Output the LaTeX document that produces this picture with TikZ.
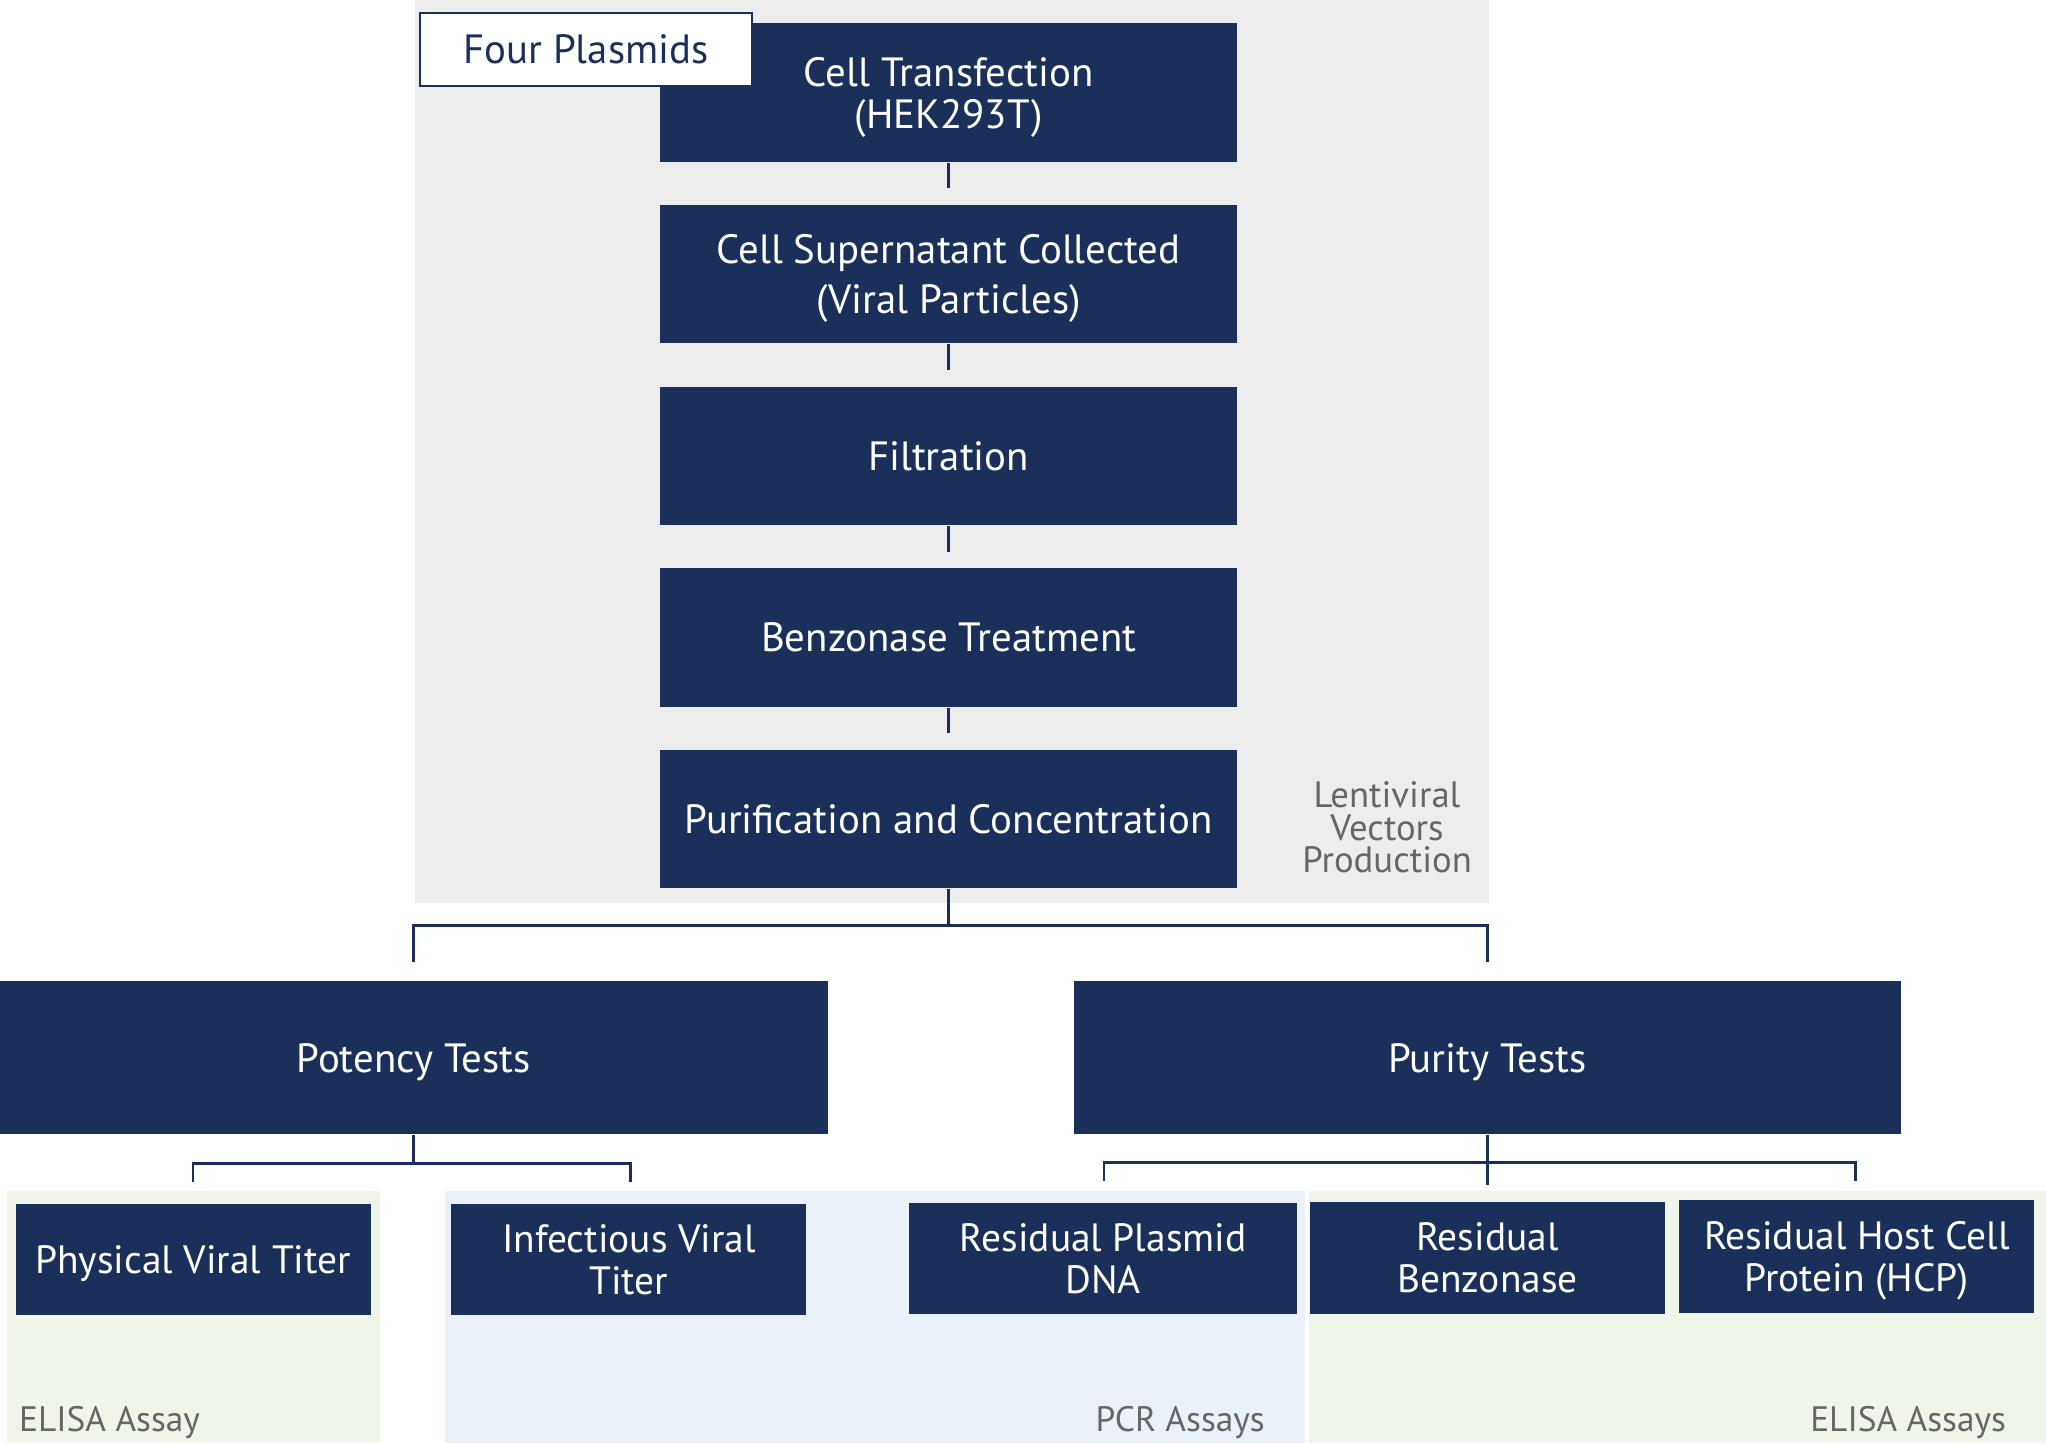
\documentclass[tikz,border=0pt]{standalone}
\usepackage{fontspec}
\setmainfont{PT Sans}
\usepackage{tikz}
\usetikzlibrary{arrows.meta}
\definecolor{navy}{HTML}{1B2F5B}
\definecolor{bggray}{HTML}{EDEDED}
\definecolor{bggreen}{HTML}{EFF5E9}
\definecolor{bgblue}{HTML}{EAF1F9}
\definecolor{labgray}{HTML}{666666}
\tikzset{
  stepbox/.style={rectangle, fill=navy, text=white, align=center, inner sep=0pt, text depth=0pt,
    font=\fontsize{8.9}{9.2}\selectfont},
  testbox/.style={stepbox, font=\fontsize{8.6}{9.2}\selectfont},
  conn/.style={draw=navy, line width=0.6pt},
  assaylabel/.style={text=labgray, inner sep=0pt, font=\fontsize{7.7}{8}\selectfont}
}
\begin{document}
\begin{tikzpicture}[x=0.01cm, y=-0.01cm]
        	\useasboundingbox (0,0) rectangle (1568,1106);
        	\fill [bggray] (318,0) rectangle (1141,692);
        	\fill [bggreen] (5,913) rectangle (291,1106);
        	\fill [bgblue] (341,913) rectangle (1000,1106);
        	\fill [bggreen] (1003,913) rectangle (1568,1106);
        	\node [stepbox, minimum width=4.42cm, minimum height=1.06cm] (transfect) at (727,71) {Cell Transfection\\(HEK293T)};
        	\node [stepbox, minimum width=4.42cm, minimum height=1.06cm, font=\fontsize{8.9}{10.8}\selectfont] (supernat) at (727,210) {Cell Supernatant Collected\\(Viral Particles)};
        	\node [stepbox, minimum width=4.42cm, minimum height=1.06cm] (filtr) at (727,349.5) {Filtration};
        	\node [stepbox, minimum width=4.42cm, minimum height=1.06cm] (benzotreat) at (727,488.5) {Benzonase Treatment};
        	\node [stepbox, minimum width=4.42cm, minimum height=1.06cm] (purif) at (727,627.5) {Purification and Concentration};
        	\node [rectangle, draw=navy, fill=white, text=navy, line width=0.5pt, minimum width=2.54cm, minimum height=0.56cm, inner sep=0pt, font=\fontsize{8.9}{9.2}\selectfont] (plasmids) at (449,38) {Four Plasmids};
        	\node [assaylabel, align=center, font=\fontsize{8}{7.1}\selectfont] (lenti) at (1063,634) {Lentiviral\\Vectors\\Production};
        	\node [stepbox, minimum width=6.34cm, minimum height=1.17cm] (potency) at (317,810.5) {Potency Tests};
        	\node [stepbox, minimum width=6.34cm, minimum height=1.17cm] (purity) at (1140,810.5) {Purity Tests};
        	\node [testbox, minimum width=2.72cm, minimum height=0.85cm] (physical) at (148,965.5) {Physical Viral Titer};
        	\node [testbox, minimum width=2.72cm, minimum height=0.85cm] (infect) at (482,965.5) {Infectious Viral\\Titer};
        	\node [testbox, minimum width=2.97cm, minimum height=0.85cm] (plasdna) at (845.5,964.5) {Residual Plasmid\\DNA};
        	\node [testbox, minimum width=2.72cm, minimum height=0.86cm] (resbenzo) at (1140,964) {Residual\\Benzonase};
        	\node [testbox, minimum width=2.72cm, minimum height=0.86cm] (hcp) at (1423,963) {Residual Host Cell\\Protein (HCP)};
        	\node [assaylabel, anchor=base west] (elisaone) at (14,1097) {ELISA Assay};
        	\node [assaylabel, anchor=base east] (pcr) at (970,1097) {PCR Assays};
        	\node [assaylabel, anchor=base east] (elisatwo) at (1538,1097) {ELISA Assays};
        	\draw [conn, shorten >=3.4pt] (transfect) -- (supernat);
        	\draw [conn, shorten >=3.4pt] (supernat) -- (filtr);
        	\draw [conn, shorten >=3.4pt] (filtr) -- (benzotreat);
        	\draw [conn, shorten >=3.4pt] (benzotreat) -- (purif);
        	\coordinate (potin) at (317,737);
        	\coordinate (purin) at (1140,737);
        	\coordinate (physin) at (148,906);
        	\coordinate (infin) at (483,906);
        	\coordinate (plasin) at (846,905);
        	\coordinate (hcpin) at (1422,905);
        	\draw [conn] (purif.south) -- ++(0,28) coordinate (splitmain);
        	\draw [conn] (potin) |- (splitmain) -| (purin);
        	\draw [conn] (potency.south) -- ++(0,22) coordinate (splitpot);
        	\draw [conn] (physin) |- (splitpot) -| (infin);
        	\draw [conn, shorten >=3.4pt] (purity) -- (resbenzo);
        	\draw [conn] (plasin) |- (1140,891) -| (hcpin);
        \end{tikzpicture}
\end{document}
